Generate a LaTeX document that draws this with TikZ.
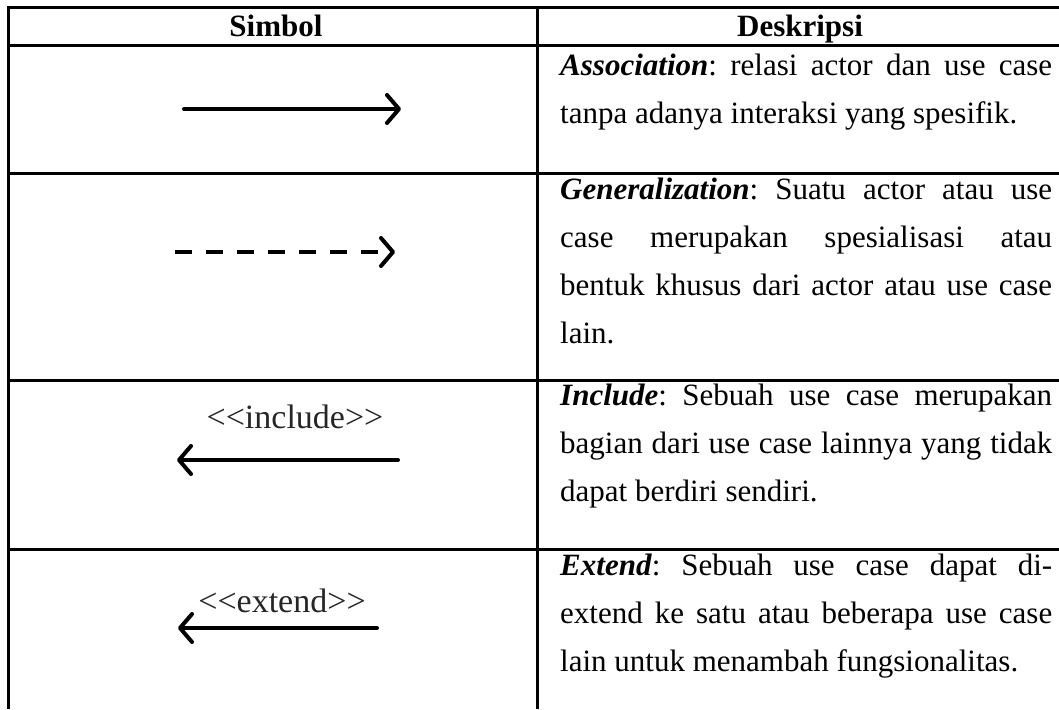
\documentclass[tikz,border=0pt]{standalone}
\usepackage{fontspec}
\setmainfont{Liberation Serif}
\usetikzlibrary{arrows.meta}
\begin{document}
\begin{tikzpicture}[x=1pt,y=-1pt,
  rule/.style={line width=3pt},
  headtext/.style={anchor=base, inner sep=0pt, font=\fontsize{31}{36}\selectfont\bfseries},
  desc/.style={anchor=base west, inner sep=0pt, text width=492pt, align=justify,
    font=\fontsize{31}{48}\selectfont\frenchspacing},
  symlabel/.style={anchor=base, inner sep=0pt, font=\fontsize{34}{36}\selectfont, text=black!85},
  umlarrow/.style={line width=4pt, line cap=round,
    -{Straight Barb[length=12pt,width=28pt,line width=4pt,round]}},
  umldash/.style={umlarrow, dash pattern=on 17pt off 14pt, line cap=butt}
]
\useasboundingbox (0,0) rectangle (1059,709);

% table grid (right and bottom edges run off the page)
\draw[rule] (8,709) -- (8,8) -- (1059,8);
\draw[rule] (537,8) -- (537,709);
\foreach \yy in {46,173,380,549}
  \draw[rule] (8,\yy) -- (1059,\yy);

% header
\node[headtext] (hsym) at (276,37) {Simbol};
\node[headtext] (hdesc) at (800,37) {Deskripsi};

% descriptions
\node[desc] (d1) at (560,75) {\textbf{\textit{Association}}: relasi actor dan use case\linebreak tanpa adanya interaksi yang spesifik.};
\node[desc] (d2) at (560,199) {\textbf{\textit{Generalization}}: Suatu actor atau use\linebreak case merupakan spesialisasi atau\linebreak bentuk khusus dari actor atau use case\linebreak lain.};
\node[desc] (d3) at (560,405) {\textbf{\textit{Include}}: Sebuah use case merupakan\linebreak bagian dari use case lainnya yang tidak\linebreak dapat berdiri sendiri.};
\node[desc] (d4) at (560,575) {\textbf{\textit{Extend}}: Sebuah use case dapat di-\linebreak extend ke satu atau beberapa use case\linebreak lain untuk menambah fungsionalitas.};

% association
\coordinate (a1) at (184,109);
\coordinate (a2) at (401,109);
\draw[umlarrow] (a1) -- (a2);

% generalization
\coordinate (g1) at (175,252);
\coordinate (g2) at (395,252);
\draw[umldash] (g1) -- (g2);

% include
\node[symlabel] (inc) at (295,428) {<{}<include>{}>};
\coordinate (i1) at (398,460);
\coordinate (i2) at (177,460);
\draw[umlarrow] (i1) -- (i2);

% extend
\node[symlabel] (ext) at (282,612) {<{}<extend>{}>};
\coordinate (e1) at (377,628);
\coordinate (e2) at (178,628);
\draw[umlarrow] (e1) -- (e2);
\end{tikzpicture}
\end{document}
